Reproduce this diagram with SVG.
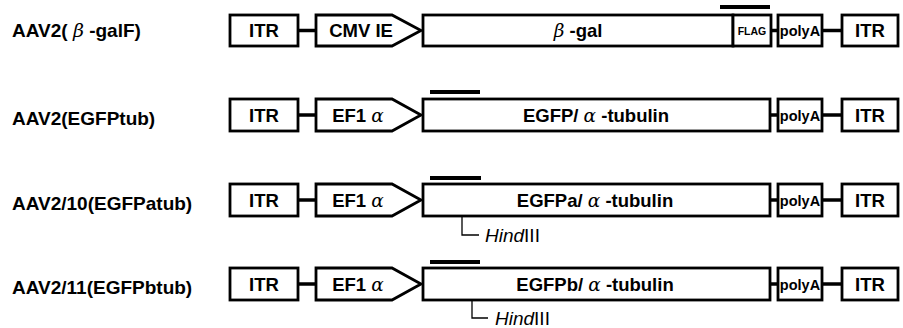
<svg xmlns="http://www.w3.org/2000/svg" width="903" height="328" viewBox="0 0 903 328">
<style>
.b{fill:#fff;stroke:#000;stroke-width:2.8}
.c{stroke:#000;stroke-width:3.5;fill:none}
.bar{stroke:#000;stroke-width:4}
.thin{stroke:#000;stroke-width:1.3;fill:none}
text{font-family:"Liberation Sans",Arial,sans-serif;fill:#000}
.t{font-size:18.5px;font-weight:bold;text-anchor:middle}
.l{font-size:19px;font-weight:bold}
.p{font-size:14.5px;font-weight:bold;text-anchor:middle}
.f{font-size:10.5px;font-weight:bold;text-anchor:middle}
.h{font-size:19px}
.g{font-family:"DejaVu Serif","Liberation Serif",serif;font-style:italic;font-weight:normal}
</style>
<rect width="903" height="328" fill="#fff"/>
<g id="connectors">
<line class="c" x1="298" y1="30.5" x2="316" y2="30.5"/>
<line class="c" x1="771" y1="30.5" x2="778" y2="30.5"/>
<line class="c" x1="822" y1="30.5" x2="842" y2="30.5"/>
<line class="c" x1="298" y1="115" x2="316" y2="115"/>
<line class="c" x1="770" y1="115" x2="778" y2="115"/>
<line class="c" x1="822" y1="115" x2="842" y2="115"/>
<line class="c" x1="298" y1="200" x2="316" y2="200"/>
<line class="c" x1="770" y1="200" x2="778" y2="200"/>
<line class="c" x1="822" y1="200" x2="842" y2="200"/>
<line class="c" x1="298" y1="284" x2="316" y2="284"/>
<line class="c" x1="770" y1="284" x2="778" y2="284"/>
<line class="c" x1="822" y1="284" x2="842" y2="284"/>
<polyline class="thin" points="462,184 462,235 479,235"/>
<polyline class="thin" points="472,268 472,318 488,318"/>
</g>
<g id="row1">
<text id="label1" class="l" x="12" y="37">AAV2( <tspan class="g">β</tspan> -galF)</text>
<g id="r1-itr1"><rect class="b" x="230" y="15" width="68" height="31"/><text class="t" x="264" y="37">ITR</text></g>
<g id="r1-cmv"><path class="b" d="M316,15 H392 L421,30.5 L392,46 H316 Z"/><text class="t" x="361" y="37">CMV IE</text></g>
<g id="r1-bgal"><rect class="b" x="423" y="15" width="310" height="31"/><text class="t" x="578" y="37"><tspan class="g">β</tspan> -gal</text></g>
<g id="r1-flag"><rect class="b" x="733" y="15" width="38" height="31"/><text class="f" x="752" y="34.5">FLAG</text></g>
<line id="r1-bar" class="bar" x1="720" y1="7" x2="770" y2="7"/>
<g id="r1-polya"><rect class="b" x="778" y="15" width="44" height="31"/><text class="p" x="800" y="36">polyA</text></g>
<g id="r1-itr2"><rect class="b" x="842" y="15" width="56" height="31"/><text class="t" x="870" y="37">ITR</text></g>
</g>
<g id="row2">
<text id="label2" class="l" x="12" y="125">AAV2(EGFPtub)</text>
<g id="r2-itr1"><rect class="b" x="230" y="99" width="68" height="32"/><text class="t" x="264" y="121.5">ITR</text></g>
<g id="r2-ef1"><path class="b" d="M316,99 H392 L421,115 L392,131 H316 Z"/><text class="t" x="358" y="121.5">EF1 <tspan class="g">α</tspan></text></g>
<g id="r2-egfp"><rect class="b" x="423" y="99" width="347" height="32"/><text class="t" x="596" y="121.5">EGFP/ <tspan class="g">α</tspan> -tubulin</text></g>
<line id="r2-bar" class="bar" x1="430" y1="92" x2="480" y2="92"/>
<g id="r2-polya"><rect class="b" x="778" y="99" width="44" height="32"/><text class="p" x="800" y="120.5">polyA</text></g>
<g id="r2-itr2"><rect class="b" x="842" y="99" width="56" height="32"/><text class="t" x="870" y="121.5">ITR</text></g>
</g>
<g id="row3">
<text id="label3" class="l" x="12" y="210">AAV2/10(EGFPatub)</text>
<g id="r3-itr1"><rect class="b" x="230" y="184" width="68" height="32"/><text class="t" x="264" y="206.5">ITR</text></g>
<g id="r3-ef1"><path class="b" d="M316,184 H392 L421,200 L392,216 H316 Z"/><text class="t" x="358" y="206.5">EF1 <tspan class="g">α</tspan></text></g>
<g id="r3-egfp"><rect class="b" x="423" y="184" width="347" height="32"/><text class="t" x="595" y="206.5">EGFPa/ <tspan class="g">α</tspan> -tubulin</text></g>
<line id="r3-bar" class="bar" x1="430" y1="178" x2="481" y2="178"/>
<g id="r3-polya"><rect class="b" x="778" y="184" width="44" height="32"/><text class="p" x="800" y="205.5">polyA</text></g>
<g id="r3-itr2"><rect class="b" x="842" y="184" width="56" height="32"/><text class="t" x="870" y="206.5">ITR</text></g>
<text id="r3-hind" class="h" x="485" y="242"><tspan font-style="italic">Hind</tspan>III</text>
</g>
<g id="row4">
<text id="label4" class="l" x="12" y="294">AAV2/11(EGFPbtub)</text>
<g id="r4-itr1"><rect class="b" x="230" y="268" width="68" height="32"/><text class="t" x="264" y="290.5">ITR</text></g>
<g id="r4-ef1"><path class="b" d="M316,268 H392 L421,284 L392,300 H316 Z"/><text class="t" x="358" y="290.5">EF1 <tspan class="g">α</tspan></text></g>
<g id="r4-egfp"><rect class="b" x="423" y="268" width="347" height="32"/><text class="t" x="595" y="290.5">EGFPb/ <tspan class="g">α</tspan> -tubulin</text></g>
<line id="r4-bar" class="bar" x1="430" y1="262" x2="480" y2="262"/>
<g id="r4-polya"><rect class="b" x="778" y="268" width="44" height="32"/><text class="p" x="800" y="289.5">polyA</text></g>
<g id="r4-itr2"><rect class="b" x="842" y="268" width="56" height="32"/><text class="t" x="870" y="290.5">ITR</text></g>
<text id="r4-hind" class="h" x="495" y="325"><tspan font-style="italic">Hind</tspan>III</text>
</g>
</svg>
